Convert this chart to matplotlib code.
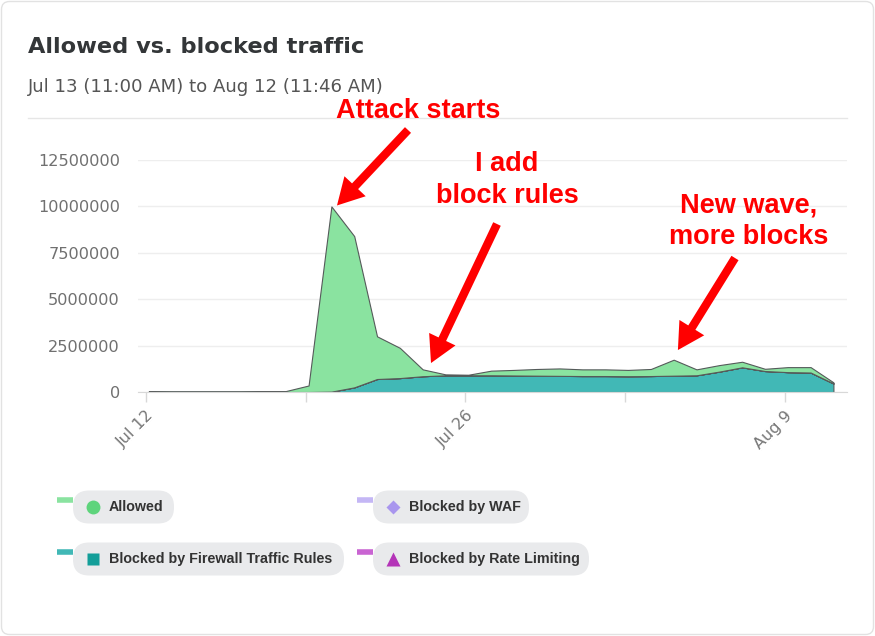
import matplotlib
matplotlib.use("Agg")
import matplotlib.pyplot as plt
import matplotlib.dates as mdates
import matplotlib.transforms as mtransforms
from matplotlib.patches import FancyBboxPatch
from matplotlib.lines import Line2D
import numpy as np
import pandas as pd

# ---------------- data ----------------
dates = pd.date_range("2023-07-12 03:00", periods=31, freq="D")
allowed = [50e3, 40e3, 40e3, 40e3, 40e3, 50e3, 50e3, 350e3, 9.98e6, 8.15e6,
           2.30e6, 1.63e6, 370e3, 50e3, 30e3, 250e3, 300e3, 360e3, 400e3, 360e3,
           360e3, 340e3, 380e3, 860e3, 320e3, 350e3, 300e3, 120e3, 270e3, 290e3, 60e3]
firewall = [0, 0, 0, 0, 0, 0, 0, 0, 20e3, 250e3,
            700e3, 750e3, 850e3, 900e3, 900e3, 900e3, 890e3, 880e3, 870e3, 860e3,
            860e3, 850e3, 860e3, 880e3, 900e3, 1.10e6, 1.33e6, 1.13e6, 1.07e6, 1.05e6, 460e3]
waf = [0] * 31
rate_limiting = [0] * 31

series_names = ["Allowed", "Blocked by WAF",
                "Blocked by Firewall Traffic Rules", "Blocked by Rate Limiting"]
yticks = [0, 2500000, 5000000, 7500000, 10000000, 12500000]
xtick_major = ["2023-07-12", "2023-07-26", "2023-08-09"]
xtick_minor = ["2023-07-19", "2023-08-02"]

title = "Allowed vs. blocked traffic"
subtitle = "Jul 13 (11:00 AM) to Aug 12 (11:46 AM)"

# colours
c_allowed_fill = "#8ae3a0"
c_allowed_mark = "#5ed47c"
c_fw_fill = "#41b8b6"
c_fw_mark = "#139e99"
c_waf_sw = "#c4b7f5"
c_waf_mark = "#a996ee"
c_rl_sw = "#c964d2"
c_rl_mark = "#b434b8"

W, H = 875, 636
fig = plt.figure(figsize=(W / 100, H / 100), dpi=100)
px = mtransforms.Affine2D().scale(1 / 100, -1 / 100).translate(0, H / 100) + fig.dpi_scale_trans

# card border
fig.patches.append(FancyBboxPatch((1.5, 1.5), W - 3, H - 3,
                                  boxstyle="round,pad=0,rounding_size=8",
                                  transform=px, facecolor="white",
                                  edgecolor="#e2e2e2", lw=1.0, zorder=-5))

# title / subtitle / separator
fig.text(28, 47, title, transform=px, fontsize=16.2, fontweight="bold",
         color="#333638", family="DejaVu Sans", va="center", ha="left")
fig.text(28, 87, subtitle, transform=px, fontsize=13.1, color="#555555",
         family="DejaVu Sans", va="center", ha="left")
fig.lines.append(Line2D([28, 847], [118, 118], transform=px, color="#e6e6e6", lw=1))

# axes
ax = fig.add_axes([138 / W, 1 - 392 / H, (847 - 138) / W, (392 - 160) / H])
ax.set_zorder(2)
ax.patch.set_alpha(0)
x0 = mdates.date2num(pd.Timestamp("2023-07-12"))
ax.set_xlim(x0 - 0.35, x0 + 30.72)
ax.set_ylim(0, 12500000)

ax.stackplot(dates, firewall, waf, rate_limiting, allowed,
             colors=[c_fw_fill, c_waf_sw, c_rl_sw, c_allowed_fill],
             edgecolor="#555a5a", linewidth=0.8, zorder=2)

ax.set_yticks(yticks)
ax.set_yticklabels([str(v) for v in yticks])
ax.yaxis.grid(True, color="#eeeeee", lw=1, zorder=0)
ax.set_axisbelow(True)
ax.tick_params(axis="y", length=0, pad=13, labelsize=11.6, labelcolor="#707070")

ax.set_xticks(mdates.date2num(pd.to_datetime(xtick_major)))
ax.set_xticks(mdates.date2num(pd.to_datetime(xtick_minor)), minor=True)
ax.xaxis.set_major_formatter(mdates.DateFormatter("%b %-d"))
ax.tick_params(axis="x", which="both", length=7.5, width=1, color="#d8d8d8",
               labelsize=11.5, labelcolor="#777777", pad=4)
for lab in ax.get_xticklabels():
    lab.set_rotation(45)
    lab.set_ha("right")
    lab.set_va("top")
    lab.set_rotation_mode("anchor")

for s in ["top", "right", "left"]:
    ax.spines[s].set_visible(False)
ax.spines["bottom"].set_color("#d8d8d8")

# annotations
red = "#ff0000"
afont = dict(family="Liberation Sans", fontweight="bold", fontsize=19.5, color=red,
             ha="center", va="center", linespacing=1.27)
fig.text(418, 111, "Attack starts", transform=px, **afont)
fig.text(507, 180, "I add\nblock rules", transform=px, **afont)
fig.text(749, 221.5, "New wave,\nmore blocks", transform=px, **afont)

astyle = dict(arrowstyle="simple,head_length=0.95,head_width=1.05,tail_width=0.3",
              mutation_scale=20, color=red, lw=0, shrinkA=0, shrinkB=0)
ax.annotate("", xy=(x0 + 8.37, 10.05e6), xytext=(408, 130), textcoords=px,
            arrowprops=astyle, annotation_clip=False, zorder=5)
ax.annotate("", xy=(x0 + 12.49, 1.56e6), xytext=(497, 224), textcoords=px,
            arrowprops=astyle, annotation_clip=False, zorder=5)
ax.annotate("", xy=(x0 + 23.31, 2.26e6), xytext=(735, 258), textcoords=px,
            arrowprops=astyle, annotation_clip=False, zorder=5)

# legend (pills)
pill_bg = "#e9eaec"
items = [
    (series_names[0], c_allowed_fill, c_allowed_mark, "o", 57, 507, 174),
    (series_names[1], c_waf_sw, c_waf_mark, "D", 357, 507, 529),
    (series_names[2], c_fw_fill, c_fw_mark, "s", 57, 559, 344),
    (series_names[3], c_rl_sw, c_rl_mark, "^", 357, 559, 589),
]
for name, sw, mk, m, xs, yc, xe in items:
    fig.patches.append(FancyBboxPatch((xs + 16, yc - 16.5), xe - xs - 16, 33,
                                      boxstyle="round,pad=0,rounding_size=16",
                                      transform=px, facecolor=pill_bg,
                                      edgecolor="none", zorder=1))
    fig.lines.append(Line2D([xs, xs + 16], [yc - 7, yc - 7], transform=px,
                            color=sw, lw=4, solid_capstyle="butt", zorder=2))
    ms = {"o": 10, "D": 7.5, "s": 9, "^": 10}[m]
    fig.lines.append(Line2D([xs + 36], [yc], transform=px, marker=m, ms=ms,
                            color=mk, mec="none", lw=0, zorder=3))
    fig.text(xs + 52, yc, name, transform=px, family="Liberation Sans",
             fontweight="bold", fontsize=10.3, color="#333333", va="center", ha="left",
             zorder=3)

fig.savefig("out.png", dpi=100)
